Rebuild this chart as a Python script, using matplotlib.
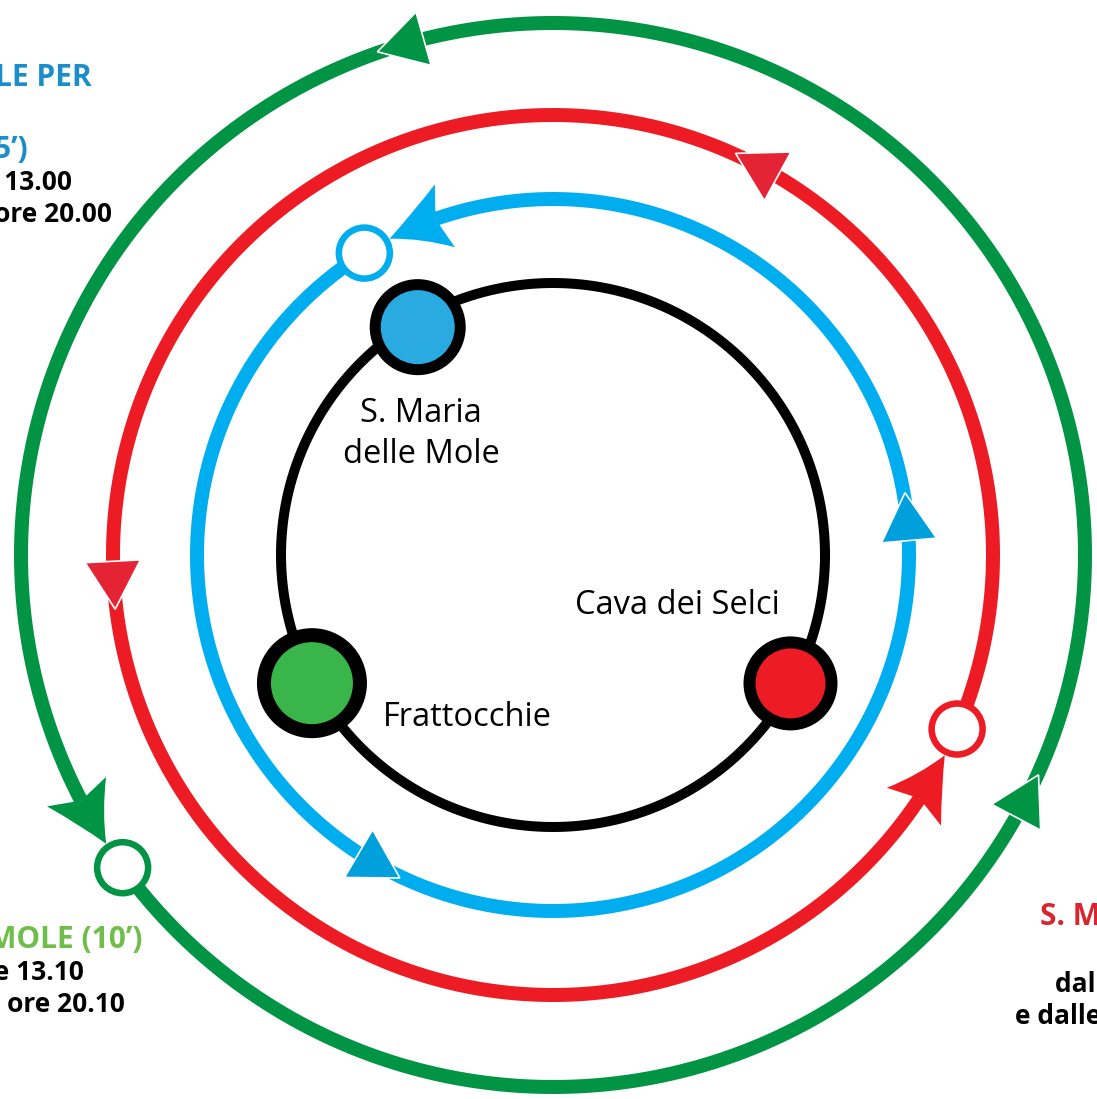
import numpy as np
import matplotlib
matplotlib.use('Agg')
from matplotlib import pyplot as plt
from matplotlib.patches import Circle, Polygon, PathPatch
from matplotlib.path import Path

# --- dati ---
stations = ['S. Maria\ndelle Mole', 'Frattocchie', 'Cava dei Selci']
station_colors = ['#29abe2', '#39b54a', '#ed1c24']
station_angles = [120.7, 208.0, 331.6]
station_r = [265, 273, 270]

routes = ['blu', 'rosso', 'verde']
route_colors = ['#00aeef', '#ed1c24', '#009444']
route_tri_colors = ['#00a0dc', '#e42335', '#009444']
route_radius = [356, 440, 532]
stop_angles = [122.0, -23.3, 216.0]          # cerchio vuoto (capolinea)
tri_angles = [[4.9, 239.5], [61.4, 182.9], [105.8, -27.8]]

left_top = ['S. MARIA DELLE MOLE PER', '(5’)', 'alle 13.00', 'alle ore 20.00']
left_bot = ['S. MARIA DELLE MOLE (10’)', 'alle 13.10', 'alle ore 20.10']
right_bot = ['S. MARIA DELLE MOLE', 'dalle ore', 'e dalle ore']

W, H = 1097, 1099
cx, cy = 553, 555


def pt(r, a):
    a = np.radians(a)
    return cx + r * np.cos(a), cy - r * np.sin(a)


fig = plt.figure(figsize=(W / 100, H / 100), dpi=100)
ax = fig.add_axes([0, 0, 1, 1])
ax.set_xlim(0, W)
ax.set_ylim(H, 0)
ax.axis('off')

px = 0.72  # pixel -> punti

# anello nero con le stazioni
t = np.linspace(0, 360, 721)
x, y = pt(272, t)
ax.plot(x, y, color='black', lw=10 * px, zorder=2)

# linee colorate
for i in range(3):
    r = route_radius[i]
    tip = stop_angles[i] - np.degrees(29 / r)
    notch = tip - np.degrees(50 / r)
    a = np.linspace(stop_angles[i], notch + 360, 900)
    x, y = pt(r, a)
    ax.plot(x, y, color=route_colors[i], lw=14 * px, solid_capstyle='butt', zorder=2)

    # punta "a freccia" verso il capolinea
    back = tip - np.degrees(60 / r)
    T = pt(r, tip)
    B1 = pt(r + 33, back)
    B2 = pt(r - 33, back)
    N = pt(r, notch)
    C1 = pt(r + 13, tip - np.degrees(30 / r))
    C2 = pt(r - 13, tip - np.degrees(30 / r))
    verts = [T, C1, B1, N, B2, C2, T]
    codes = [Path.MOVETO, Path.CURVE3, Path.CURVE3, Path.LINETO, Path.LINETO,
             Path.CURVE3, Path.CURVE3]
    ax.add_patch(PathPatch(Path(verts, codes), fc=route_colors[i], ec='none', zorder=3))

    # capolinea
    ax.add_patch(Circle(pt(r, stop_angles[i]), 25.5, fc='white', ec=route_colors[i],
                        lw=6.5 * px, zorder=4))

    # triangoli di direzione
    for a in tri_angles[i]:
        c = pt(r, a)
        vv = []
        for k in range(3):
            phi = np.radians(a + 90 + 120 * k)
            vv.append((c[0] + 32 * np.cos(phi), c[1] - 32 * np.sin(phi)))
        ax.add_patch(Polygon(vv, closed=True, fc=route_tri_colors[i], ec='white',
                             lw=1.2, zorder=5))

# stazioni
dot_r = [(48, 37), (55, 41), (47, 35)]
for i in range(3):
    c = pt(station_r[i], station_angles[i])
    ax.add_patch(Circle(c, dot_r[i][0], fc='black', ec='none', zorder=6))
    ax.add_patch(Circle(c, dot_r[i][1], fc=station_colors[i], ec='none', zorder=7))

lab = dict(fontsize=23.5, family='Open Sans', color='black', zorder=8)
ax.text(421, 434, stations[0], ha='center', va='center', linespacing=1.34, **lab)
ax.text(383, 718, stations[1], ha='left', va='center', **lab)
ax.text(780, 606, stations[2], ha='right', va='center', **lab)

# testi laterali (tagliati dal bordo)
bold = dict(family='Open Sans', weight='bold', zorder=8)
ax.text(92, 78, left_top[0], ha='right', va='center', fontsize=21.5, color='#1b8ec9', **bold)
ax.text(28, 150, left_top[1], ha='right', va='center', fontsize=21.5, color='#1b8ec9', **bold)
ax.text(72, 183, left_top[2], ha='right', va='center', fontsize=19, color='black', **bold)
ax.text(112, 215, left_top[3], ha='right', va='center', fontsize=19, color='black', **bold)

ax.text(142, 940, left_bot[0], ha='right', va='center', fontsize=21.5, color='#6fbe4a', **bold)
ax.text(84, 972, left_bot[1], ha='right', va='center', fontsize=19, color='black', **bold)
ax.text(125, 1004, left_bot[2], ha='right', va='center', fontsize=19, color='black', **bold)

ax.text(1040, 917, right_bot[0], ha='left', va='center', fontsize=21.5, color='#d7262f', **bold)
ax.text(1055, 985, right_bot[1], ha='left', va='center', fontsize=19, color='black', **bold)
ax.text(1015, 1017, right_bot[2], ha='left', va='center', fontsize=19, color='black', **bold)

fig.savefig('out.png', dpi=100)
